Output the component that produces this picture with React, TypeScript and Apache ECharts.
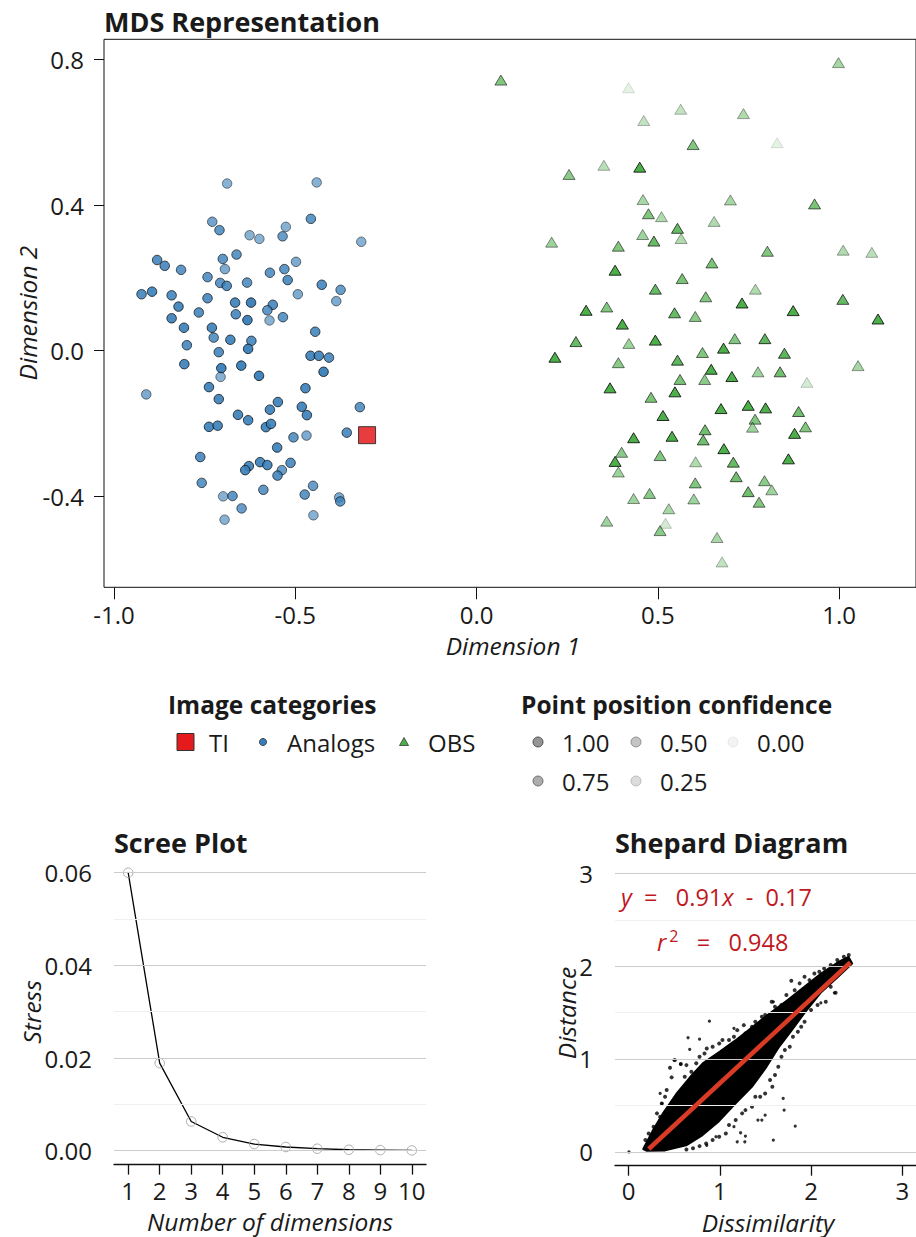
import React, { useEffect, useRef } from "react";
import * as echarts from "echarts";

const FONT = "'Open Sans', 'Noto Sans', sans-serif";

// ---------- MDS representation: [dimension1, dimension2, confidence] ----------
const tiPoints: number[][] = [[-0.302, -0.232, 0.85]];

const analogPoints: number[][] = [
  [-0.688, 0.459, 0.6], [-0.441, 0.462, 0.6], [-0.729, 0.354, 0.7], [-0.709, 0.331, 0.8],
  [-0.457, 0.362, 0.8], [-0.526, 0.340, 0.6], [-0.626, 0.317, 0.6], [-0.599, 0.307, 0.6],
  [-0.535, 0.314, 0.75], [-0.318, 0.299, 0.6], [-0.662, 0.264, 0.8], [-0.700, 0.252, 0.8],
  [-0.881, 0.249, 0.85], [-0.860, 0.233, 0.85], [-0.815, 0.222, 0.8], [-0.694, 0.224, 0.65],
  [-0.530, 0.224, 0.8], [-0.498, 0.244, 0.65], [-0.570, 0.214, 0.8], [-0.742, 0.202, 0.8],
  [-0.521, 0.194, 0.85], [-0.707, 0.186, 0.8], [-0.689, 0.178, 0.85], [-0.633, 0.187, 0.8],
  [-0.427, 0.181, 0.85], [-0.375, 0.167, 0.75], [-0.924, 0.155, 0.85], [-0.895, 0.162, 0.9],
  [-0.841, 0.152, 0.85], [-0.742, 0.144, 0.85], [-0.493, 0.155, 0.65], [-0.387, 0.136, 0.65],
  [-0.822, 0.121, 0.9], [-0.666, 0.132, 0.9], [-0.622, 0.132, 0.95], [-0.562, 0.126, 0.85],
  [-0.577, 0.111, 0.8], [-0.766, 0.105, 0.85], [-0.664, 0.100, 0.85], [-0.841, 0.089, 0.9],
  [-0.632, 0.084, 0.95], [-0.571, 0.083, 0.6], [-0.534, 0.092, 0.8], [-0.807, 0.063, 0.9],
  [-0.730, 0.063, 0.9], [-0.445, 0.052, 0.85], [-0.725, 0.036, 0.8], [-0.679, 0.030, 0.9],
  [-0.621, 0.027, 0.85], [-0.799, 0.015, 0.85], [-0.630, 0.005, 0.95], [-0.711, -0.004, 0.85],
  [-0.458, -0.014, 0.9], [-0.435, -0.014, 0.9], [-0.407, -0.019, 0.85], [-0.806, -0.037, 0.9],
  [-0.704, -0.048, 0.95], [-0.649, -0.041, 0.95], [-0.706, -0.072, 0.6], [-0.600, -0.069, 0.95],
  [-0.422, -0.058, 0.95], [-0.911, -0.120, 0.65], [-0.738, -0.100, 0.9], [-0.472, -0.103, 0.9],
  [-0.711, -0.133, 0.9], [-0.548, -0.141, 0.9], [-0.570, -0.162, 0.9], [-0.482, -0.154, 0.9],
  [-0.468, -0.177, 0.9], [-0.322, -0.155, 0.8], [-0.658, -0.176, 0.9], [-0.630, -0.191, 0.9],
  [-0.738, -0.209, 0.9], [-0.714, -0.206, 0.9], [-0.581, -0.210, 0.9], [-0.567, -0.201, 0.9],
  [-0.505, -0.238, 0.8], [-0.469, -0.233, 0.65], [-0.358, -0.225, 0.85], [-0.550, -0.266, 0.9],
  [-0.762, -0.292, 0.85], [-0.597, -0.306, 0.9], [-0.577, -0.314, 0.9], [-0.628, -0.317, 0.9],
  [-0.638, -0.328, 0.9], [-0.513, -0.308, 0.85], [-0.537, -0.328, 0.75], [-0.549, -0.343, 0.85],
  [-0.758, -0.363, 0.8], [-0.451, -0.371, 0.75], [-0.588, -0.382, 0.8], [-0.699, -0.400, 0.6],
  [-0.673, -0.399, 0.8], [-0.474, -0.395, 0.8], [-0.379, -0.403, 0.65], [-0.376, -0.414, 0.8],
  [-0.648, -0.433, 0.75], [-0.695, -0.464, 0.6], [-0.450, -0.452, 0.6],
];

const obsPoints: number[][] = [
  [0.067, 0.743, 0.7], [0.419, 0.722, 0.15], [0.563, 0.663, 0.35], [0.461, 0.632, 0.35],
  [0.736, 0.651, 0.45], [0.998, 0.791, 0.5], [0.597, 0.566, 0.7], [0.829, 0.571, 0.15],
  [0.351, 0.509, 0.4], [0.450, 0.504, 1.0], [0.255, 0.484, 0.65], [0.459, 0.415, 0.5],
  [0.700, 0.414, 0.5], [0.932, 0.403, 0.75], [0.474, 0.376, 0.7], [0.510, 0.368, 0.45],
  [0.655, 0.355, 0.45], [0.554, 0.336, 0.85], [0.458, 0.319, 0.55], [0.489, 0.301, 0.85],
  [0.564, 0.308, 0.45], [0.207, 0.298, 0.55], [0.391, 0.287, 0.7], [0.802, 0.273, 0.7],
  [1.011, 0.276, 0.45], [1.090, 0.270, 0.4], [0.382, 0.221, 1.0], [0.649, 0.241, 0.75],
  [0.567, 0.198, 0.75], [0.493, 0.169, 0.85], [0.769, 0.169, 0.45], [0.632, 0.148, 0.7],
  [0.302, 0.111, 1.0], [0.359, 0.120, 0.7], [0.732, 0.131, 1.0], [1.010, 0.141, 0.85],
  [0.546, 0.104, 0.85], [0.603, 0.094, 0.65], [0.873, 0.110, 1.0], [1.107, 0.087, 1.0],
  [0.402, 0.073, 1.0], [0.274, 0.025, 0.85], [0.420, 0.020, 0.55], [0.493, 0.029, 1.0],
  [0.712, 0.033, 0.7], [0.795, 0.033, 0.9], [0.216, -0.018, 1.0], [0.391, -0.033, 0.65],
  [0.623, -0.005, 0.7], [0.681, 0.007, 1.0], [0.849, -0.007, 0.9], [1.052, -0.041, 0.5],
  [0.554, -0.026, 0.9], [0.647, -0.051, 1.0], [0.561, -0.079, 0.75], [0.629, -0.079, 0.65],
  [0.704, -0.071, 1.0], [0.776, -0.058, 0.55], [0.837, -0.058, 0.8], [0.911, -0.087, 0.25],
  [0.368, -0.102, 1.0], [0.547, -0.113, 1.0], [0.481, -0.128, 0.75], [0.674, -0.159, 1.0],
  [0.749, -0.150, 1.0], [0.797, -0.157, 1.0], [0.888, -0.167, 0.8], [0.514, -0.178, 1.0],
  [0.768, -0.188, 0.7], [0.761, -0.210, 0.55], [0.907, -0.209, 0.7], [0.877, -0.227, 1.0],
  [0.630, -0.217, 0.8], [0.625, -0.245, 0.8], [0.433, -0.239, 1.0], [0.539, -0.235, 1.0],
  [0.682, -0.269, 1.0], [0.400, -0.279, 0.65], [0.382, -0.304, 1.0], [0.391, -0.333, 0.55],
  [0.506, -0.288, 0.7], [0.604, -0.305, 0.45], [0.708, -0.306, 0.85], [0.860, -0.297, 1.0],
  [0.716, -0.346, 0.8], [0.794, -0.357, 0.65], [0.603, -0.363, 0.7], [0.814, -0.382, 0.55],
  [0.749, -0.387, 0.8], [0.779, -0.416, 0.7], [0.477, -0.392, 0.65], [0.433, -0.406, 0.55],
  [0.599, -0.407, 0.55], [0.530, -0.434, 0.5], [0.359, -0.468, 0.55], [0.521, -0.474, 0.25],
  [0.506, -0.494, 0.65], [0.663, -0.513, 0.5], [0.677, -0.580, 0.35],
];

const mdsXTicks = [-1, -0.5, 0, 0.5, 1];
const mdsYTicks = [-0.4, 0, 0.4, 0.8];

// ---------- Legend ----------
const categoryLabels = ["TI", "Analogs", "OBS"];
const confidenceLevels = [1.0, 0.5, 0.0, 0.75, 0.25];

// ---------- Scree plot ----------
const screeDims = [1, 2, 3, 4, 5, 6, 7, 8, 9, 10];
const screeStress = [0.06, 0.0189, 0.0063, 0.0029, 0.00144, 0.0008, 0.00043, 0.0002, 0.00013, 0.00005];
const screeYTicks = [0, 0.02, 0.04, 0.06];
const screeYMinor = [0.01, 0.03, 0.05];

// ---------- Shepard diagram ----------
// outline of the dense core of the (dissimilarity, distance) cloud
const shepardCloud: number[][] = [
  [0.16, 0.03], [0.26, 0.22], [0.38, 0.42], [0.52, 0.62], [0.67, 0.80], [0.82, 0.96],
  [1.0, 1.08], [1.17, 1.2], [1.35, 1.34], [1.53, 1.48], [1.75, 1.64], [1.93, 1.78],
  [2.11, 1.92], [2.29, 2.04], [2.41, 2.1], [2.45, 2.03], [2.29, 1.88], [2.11, 1.72],
  [1.93, 1.5], [1.78, 1.3], [1.64, 1.12], [1.50, 0.9], [1.35, 0.7], [1.17, 0.52],
  [0.99, 0.33], [0.81, 0.18], [0.63, 0.07], [0.40, 0.015], [0.20, 0.01],
];
// scattered pairs around the edge of the cloud
const shepardEdge: number[][] = [
  [0.453, 0.905], [0.507, 0.988], [0.572, 0.945], [0.633, 0.934], [0.615, 0.808], [0.687, 0.862],
  [0.741, 0.953], [0.777, 1.024], [0.831, 1.060], [0.856, 1.114], [0.920, 1.131], [0.992, 1.168],
  [1.028, 1.204], [1.100, 1.204], [1.154, 1.239], [1.190, 1.311], [1.262, 1.365], [1.280, 1.276],
  [1.352, 1.347], [1.388, 1.401], [1.460, 1.455], [1.496, 1.473], [1.568, 1.616], [1.604, 1.563],
  [1.675, 1.581], [1.729, 1.689], [1.783, 1.843], [1.820, 1.742], [1.874, 1.815], [1.928, 1.886],
  [1.982, 1.850], [2.036, 1.922], [2.090, 1.940], [2.143, 1.976], [2.215, 2.012], [2.287, 2.066],
  [2.359, 2.101], [2.413, 2.120], [2.269, 1.713], [2.215, 1.778], [2.161, 1.616], [2.071, 1.581],
  [1.999, 1.527], [1.928, 1.401], [1.891, 1.347], [1.855, 1.293], [1.801, 1.239], [1.766, 1.131],
  [1.712, 1.096], [1.675, 1.024], [1.640, 0.916], [1.604, 0.827], [1.550, 0.773], [1.575, 0.700],
  [1.496, 0.629], [1.442, 0.593], [1.388, 0.593], [1.352, 0.485], [1.280, 0.449], [1.244, 0.414],
  [1.173, 0.342], [1.100, 0.288], [1.065, 0.198], [0.992, 0.162], [0.920, 0.126], [0.849, 0.090],
  [0.777, 0.061], [0.705, 0.037], [0.633, 0.025], [0.273, 0.270], [0.219, 0.198], [0.183, 0.126],
  [0.310, 0.414], [0.363, 0.521], [0.399, 0.593], [0.417, 0.665], [0.471, 0.802], [0.345, 0.377],
];
const shepardOutliers: number[][] = [
  [0.003, 0.0], [0.885, 1.408], [0.651, 1.229], [0.777, 1.214], [0.669, 1.103], [0.496, 0.988],
  [0.364, 0.52], [1.262, 1.185], [1.154, 1.33], [1.586, 1.616], [2.107, 1.606], [2.255, 1.713],
  [1.694, 0.575], [1.704, 0.449], [1.826, 0.277], [1.586, 0.126], [1.496, 0.395], [1.417, 0.342],
  [1.46, 0.342], [1.28, 0.169], [1.227, 0.205], [1.19, 0.108], [1.273, 0.108], [1.154, 0.27],
  [0.957, 0.162], [0.856, 0.07], [0.345, 0.629], [0.568, 0.945], [1.10, 1.06], [0.992, 0.953],
];
const shepardFit: number[][] = [[0.22, 0.03], [2.43, 2.04]];
const shepardTicks = [0, 1, 2, 3];
const shepardMinor = [0.5, 1.5, 2.5];

const TXT = "#1a1a1a";
const RED_TXT = "#C0181E";

function txt(text: string, x: number, y: number, o: any = {}) {
  return {
    type: "text",
    x,
    y,
    rotation: o.rotation || 0,
    silent: true,
    style: {
      text,
      fill: o.fill || TXT,
      fontSize: o.fontSize || 24,
      fontFamily: FONT,
      fontWeight: o.fontWeight || "normal",
      fontStyle: o.fontStyle || "normal",
      align: o.align || "left",
      verticalAlign: "middle",
      rich: o.rich,
    },
  };
}

function gridLines(values: number[], color: string) {
  return values.map((v) => ({ yAxis: v, lineStyle: { color, width: 1, type: "solid" } }));
}

export default function App() {
  const ref = useRef<HTMLDivElement>(null);
  useEffect(() => {
    if (!ref.current) return;
    const chart = echarts.init(ref.current, undefined, { renderer: "svg" });

    const axisLabelBase = { fontSize: 24, color: TXT, fontFamily: FONT, lineHeight: 24 };
    const TITLE = 27;
    const NAME = 24.5;

    const legendY1 = 742;
    const legendY2 = 781;
    const confPos = [
      [538, legendY1], [636, legendY1], [733, legendY1], [538, legendY2], [636, legendY2],
    ];

    const graphicEls: any[] = [
      txt("MDS Representation", 104, 21, { fontSize: TITLE, fontWeight: "bold" }),
      txt("Dimension 1", 513, 645, { fontSize: NAME, fontStyle: "italic", align: "center" }),
      txt("Dimension 2", 27, 313, { fontSize: NAME, fontStyle: "italic", align: "center", rotation: Math.PI / 2 }),
      // legend
      txt("Image categories", 168, 704, { fontSize: 24.5, fontWeight: "bold" }),
      {
        type: "rect", silent: true,
        shape: { x: 177, y: 733.5, width: 17, height: 17 },
        style: { fill: "#E41A1C", stroke: "#333", lineWidth: 1 },
      },
      txt(categoryLabels[0], 209, legendY1),
      {
        type: "circle", silent: true,
        shape: { cx: 263, cy: legendY1, r: 3.6 },
        style: { fill: "#377EB8", stroke: "#222", lineWidth: 0.7 },
      },
      txt(categoryLabels[1], 287, legendY1),
      {
        type: "polygon", silent: true,
        shape: { points: [[404, 737.5], [399.5, 745.5], [408.5, 745.5]] },
        style: { fill: "#4DAF4A", stroke: "#222", lineWidth: 0.7 },
      },
      txt(categoryLabels[2], 428, legendY1),
      txt("Point position confidence", 521, 704, { fontSize: 24.5, fontWeight: "bold" }),
      ...confidenceLevels.flatMap((c, i) => [
        {
          type: "circle", silent: true,
          shape: { cx: confPos[i][0], cy: confPos[i][1], r: 5 },
          style: { fill: "#8a8a8a", stroke: "#222", lineWidth: 0.8, opacity: 0.1 + 0.8 * c },
        },
        txt(c.toFixed(2), confPos[i][0] + 24, confPos[i][1]),
      ]),
      // scree
      txt("Scree Plot", 114, 842, { fontSize: TITLE, fontWeight: "bold" }),
      txt("Stress", 31, 1012, { fontSize: NAME, fontStyle: "italic", align: "center", rotation: Math.PI / 2 }),
      txt("Number of dimensions", 270, 1221, { fontSize: NAME, fontStyle: "italic", align: "center" }),
      // shepard
      txt("Shepard Diagram", 615, 842, { fontSize: TITLE, fontWeight: "bold" }),
      txt("Distance", 566, 1013, { fontSize: NAME, fontStyle: "italic", align: "center", rotation: Math.PI / 2 }),
      txt("Dissimilarity", 768, 1222, { fontSize: NAME, fontStyle: "italic", align: "center" }),
      txt("{i|y}  =   0.91{i|x}  -  0.17", 621, 897, {
        fill: RED_TXT, fontSize: 23.5,
        rich: { i: { fontStyle: "italic", fill: RED_TXT, fontSize: 23.5, fontFamily: FONT } },
      }),
      txt("{i|r}{s|2}   =   0.948", 657, 942, {
        fill: RED_TXT, fontSize: 23.5,
        rich: {
          i: { fontStyle: "italic", fill: RED_TXT, fontSize: 23.5, fontFamily: FONT },
          s: { fill: RED_TXT, fontSize: 16, fontFamily: FONT, padding: [0, 0, 12, 3] },
        },
      }),
    ];

    const option: any = {
      animation: false,
      textStyle: { fontFamily: FONT },
      grid: [
        { left: 104, top: 39.3, width: 818, height: 548, show: true, borderColor: "#111", borderWidth: 1, backgroundColor: "transparent" },
        { left: 114, top: 858.8, width: 312, height: 305.8 },
        { left: 615, top: 859.5, width: 306, height: 306.2 },
      ],
      xAxis: [
        {
          type: "value", gridIndex: 0, min: -1.0275, max: 1.2118, position: "bottom",
          axisLine: { show: false, onZero: false },
          axisTick: { show: true, length: 12, customValues: mdsXTicks, lineStyle: { color: "#111", width: 1 } },
          axisLabel: { ...axisLabelBase, customValues: mdsXTicks, margin: 15, formatter: (v: number) => v.toFixed(1) },
          splitLine: { show: false },
        },
        {
          type: "value", gridIndex: 1, min: 0.55, max: 10.45, position: "bottom",
          axisLine: { show: true, onZero: false, lineStyle: { color: "#111", width: 1.3 } },
          axisTick: { show: true, length: 10, customValues: screeDims, lineStyle: { color: "#111", width: 1.3 } },
          axisLabel: { ...axisLabelBase, customValues: screeDims, margin: 14, formatter: (v: number) => String(Math.round(v)) },
          splitLine: { show: false },
        },
        {
          type: "value", gridIndex: 2, min: -0.15, max: 3.15, position: "bottom",
          axisLine: { show: true, onZero: false, lineStyle: { color: "#111", width: 1.3 } },
          axisTick: { show: true, length: 10, customValues: shepardTicks, lineStyle: { color: "#111", width: 1.3 } },
          axisLabel: { ...axisLabelBase, customValues: shepardTicks, margin: 13, formatter: (v: number) => String(Math.round(v)) },
          splitLine: { show: false },
        },
      ],
      yAxis: [
        {
          type: "value", gridIndex: 0, min: -0.6497, max: 0.855, position: "left",
          axisLine: { show: false, onZero: false },
          axisTick: { show: true, length: 10, customValues: mdsYTicks, lineStyle: { color: "#111", width: 1 } },
          axisLabel: { ...axisLabelBase, customValues: mdsYTicks, margin: 20, formatter: (v: number) => v.toFixed(1) },
          splitLine: { show: false },
        },
        {
          type: "value", gridIndex: 1, min: -0.003, max: 0.063, position: "left",
          axisLine: { show: false, onZero: false }, axisTick: { show: false },
          axisLabel: { ...axisLabelBase, customValues: screeYTicks, margin: 22, formatter: (v: number) => v.toFixed(2) },
          splitLine: { show: false },
        },
        {
          type: "value", gridIndex: 2, min: -0.15, max: 3.15, position: "left",
          axisLine: { show: false, onZero: false }, axisTick: { show: false },
          axisLabel: { ...axisLabelBase, customValues: shepardTicks, margin: 22, formatter: (v: number) => String(Math.round(v)) },
          splitLine: { show: false },
        },
      ],
      series: [
        // MDS
        {
          type: "scatter", xAxisIndex: 0, yAxisIndex: 0, symbol: "circle", symbolSize: 9.5,
          itemStyle: { color: "#377EB8", borderColor: "#000", borderWidth: 0.8 },
          data: analogPoints.map((p) => ({ value: [p[0], p[1]], itemStyle: { opacity: p[2] } })),
          silent: true,
        },
        {
          type: "scatter", xAxisIndex: 0, yAxisIndex: 0, symbol: "triangle", symbolSize: [12, 10],
          itemStyle: { color: "#4DAF4A", borderColor: "#000", borderWidth: 0.8 },
          data: obsPoints.map((p) => ({ value: [p[0], p[1]], itemStyle: { opacity: p[2] } })),
          silent: true,
        },
        {
          type: "scatter", xAxisIndex: 0, yAxisIndex: 0, symbol: "rect", symbolSize: 17,
          itemStyle: { color: "#E41A1C", borderColor: "#222", borderWidth: 1 },
          data: tiPoints.map((p) => ({ value: [p[0], p[1]], itemStyle: { opacity: p[2] } })),
          silent: true,
        },
        // Scree gridlines
        {
          type: "line", xAxisIndex: 1, yAxisIndex: 1, z: 1, silent: true,
          data: [[screeDims[0], screeStress[0]]], showSymbol: false, lineStyle: { opacity: 0 },
          markLine: {
            silent: true, symbol: ["none", "none"], label: { show: false }, animation: false,
            data: [...gridLines(screeYMinor, "#efefef"), ...gridLines(screeYTicks, "#cccccc")],
          },
        },
        {
          type: "line", xAxisIndex: 1, yAxisIndex: 1, z: 3, silent: true,
          data: screeDims.map((d, i) => [d, screeStress[i]]),
          showSymbol: false, lineStyle: { color: "#000", width: 1.3 },
        },
        {
          type: "scatter", xAxisIndex: 1, yAxisIndex: 1, z: 4, silent: true,
          symbol: "circle", symbolSize: 9.5,
          itemStyle: { color: "rgba(0,0,0,0)", borderColor: "#9a9a9a", borderWidth: 1 },
          data: screeDims.map((d, i) => [d, screeStress[i]]),
        },
        // Shepard gridlines
        {
          type: "line", xAxisIndex: 2, yAxisIndex: 2, z: 1, silent: true,
          data: [[0, 0]], showSymbol: false, lineStyle: { opacity: 0 },
          markLine: {
            silent: true, symbol: ["none", "none"], label: { show: false }, animation: false,
            data: [...gridLines(shepardMinor, "#efefef"), ...gridLines(shepardTicks, "#cccccc")],
          },
        },
        {
          type: "custom", xAxisIndex: 2, yAxisIndex: 2, z: 3, silent: true,
          data: shepardCloud,
          renderItem: (params: any, api: any) => {
            if (params.dataIndex !== 0) return null;
            const pts = shepardCloud.map((p) => api.coord(p));
            return {
              type: "polygon",
              shape: { points: pts },
              style: { fill: "#000", stroke: "#000", lineWidth: 2, lineJoin: "round" },
            };
          },
        },
        {
          type: "scatter", xAxisIndex: 2, yAxisIndex: 2, z: 3, silent: true,
          symbol: "circle", symbolSize: 4, itemStyle: { color: "#000" },
          data: shepardEdge,
        },
        {
          type: "scatter", xAxisIndex: 2, yAxisIndex: 2, z: 3, silent: true,
          symbol: "circle", symbolSize: 3.2, itemStyle: { color: "#000" },
          data: shepardOutliers,
        },
        {
          type: "line", xAxisIndex: 2, yAxisIndex: 2, z: 5, silent: true,
          data: shepardFit, showSymbol: false,
          lineStyle: { color: "#D93B25", width: 4.5, cap: "butt" },
        },
      ],
      graphic: { elements: graphicEls },
    };

    chart.setOption(option);
    return () => chart.dispose();
  }, []);

  return (
    <div
      ref={ref}
      style={{ position: "absolute", left: 0, top: 0, width: 916, height: 1237, background: "#fff" }}
    />
  );
}
